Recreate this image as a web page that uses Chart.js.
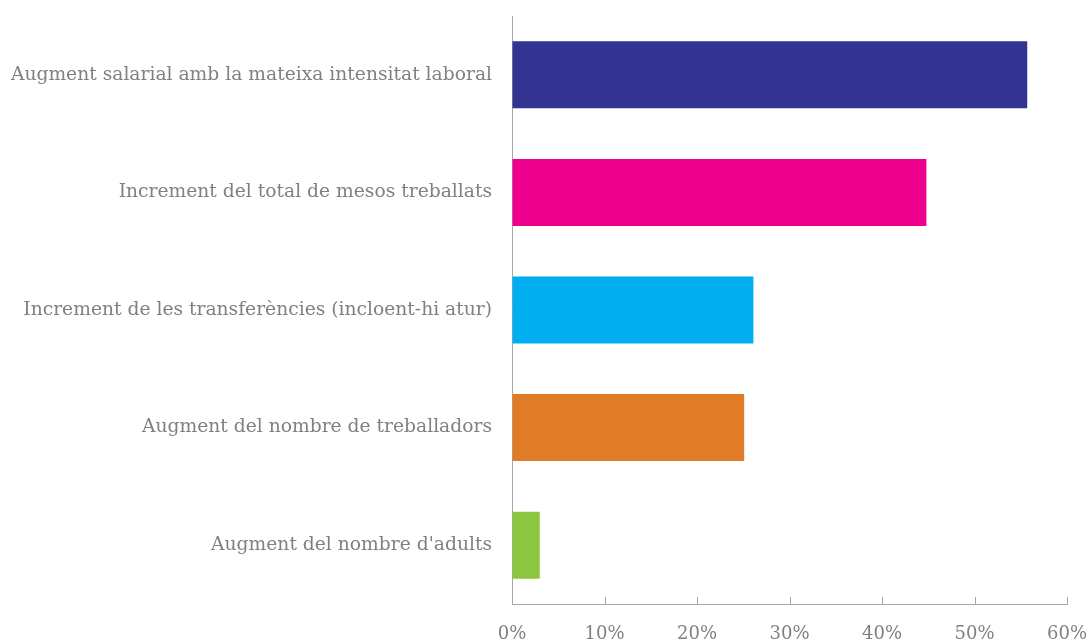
<!DOCTYPE html>
<html>
<head>
<meta charset="utf-8">
<script src="https://cdn.jsdelivr.net/npm/chart.js@4.4.1/dist/chart.umd.min.js"></script>
<style>
  html, body { margin: 0; padding: 0; background: #fff; }
  #wrap { width: 1091px; height: 642px; }
</style>
</head>
<body>
<div id="wrap"><canvas id="chart"></canvas></div>
<script>
// values (percent)
const categories = [
    "Augment salarial amb la mateixa intensitat laboral",
    "Increment del total de mesos treballats",
    "Increment de les transferències (incloent-hi atur)",
    "Augment del nombre de treballadors",
    "Augment del nombre d'adults"
];
const values = [55.7, 44.8, 26.1, 25.1, 3.0];
const barColors = ["#333391", "#EC008C", "#00AEEF", "#E07B28", "#8DC63F"];
const xTicks = [0, 10, 20, 30, 40, 50, 60];

const axisGrey = "#A6A6A6";
const textGrey = "#808080";
const fontFamily = "'DejaVu Serif', 'Liberation Serif', serif";

// small tick marks pointing up from the x axis
const innerTicks = {
    id: 'innerTicks',
    afterDraw(chart) {
        const x = chart.scales.x;
        const ctx = chart.ctx;
        const y0 = chart.chartArea.bottom;
        ctx.save();
        ctx.strokeStyle = axisGrey;
        ctx.lineWidth = 1;
        xTicks.forEach(v => {
            const px = Math.round(x.getPixelForValue(v)) + 0.5;
            ctx.beginPath();
            ctx.moveTo(px, y0);
            ctx.lineTo(px, y0 - 7);
            ctx.stroke();
        });
        ctx.restore();
    }
};

new Chart(document.getElementById('chart'), {
    type: 'bar',
    data: {
        labels: categories,
        datasets: [{
            data: values,
            backgroundColor: barColors,
            borderWidth: 0,
            barPercentage: 0.57,
            categoryPercentage: 1.0
        }]
    },
    options: {
        indexAxis: 'y',
        responsive: true,
        maintainAspectRatio: false,
        animation: false,
        layout: { padding: { top: 16, right: 24, bottom: 0, left: 0 } },
        plugins: {
            legend: { display: false },
            tooltip: { enabled: false }
        },
        scales: {
            x: {
                min: 0,
                max: 60,
                afterBuildTicks: (s) => { s.ticks = xTicks.map(v => ({ value: v })); },
                afterFit: (s) => { s.height = 38; s.paddingRight = 0; s.paddingLeft = 0; },
                grid: { display: true, drawOnChartArea: false, drawTicks: false },
                border: { display: true, color: axisGrey, width: 1 },
                ticks: {
                    padding: 20,
                    color: textGrey,
                    font: { family: fontFamily, size: 18 },
                    callback: (v) => v + '%'
                }
            },
            y: {
                afterFit: (s) => { s.width = 512; s.paddingTop = 0; s.paddingBottom = 0; },
                grid: { display: false, drawTicks: false },
                border: { display: true, color: axisGrey, width: 1 },
                ticks: {
                    padding: 20,
                    color: textGrey,
                    font: { family: fontFamily, size: 18.7 }
                }
            }
        }
    },
    plugins: [innerTicks]
});
</script>
</body>
</html>
